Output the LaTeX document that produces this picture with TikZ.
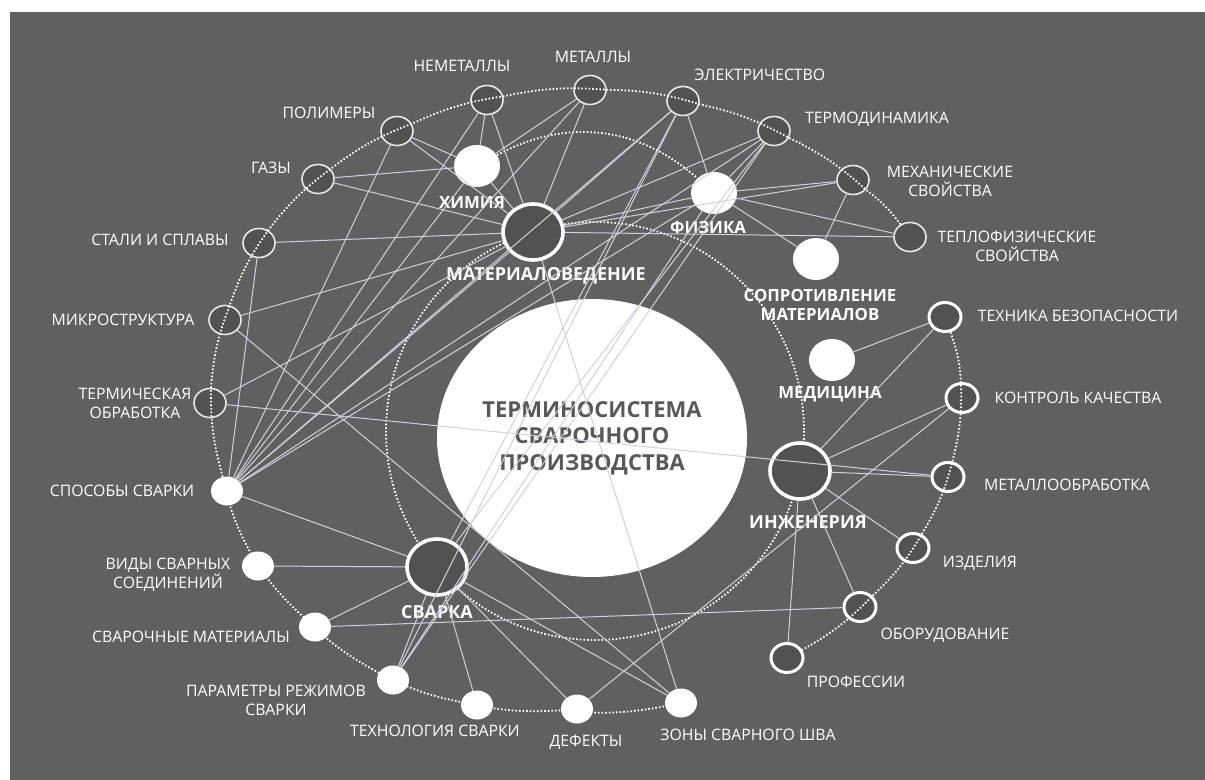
\documentclass[tikz,border=0pt]{standalone}
\usepackage{fontspec}
\setmainfont{Open Sans}
\usetikzlibrary{shapes.geometric}

\definecolor{bggray}{RGB}{96,96,96}
\definecolor{nodefill}{RGB}{84,82,80}
\definecolor{linkc}{RGB}{208,209,220}
\definecolor{rimc}{RGB}{232,232,232}
\definecolor{coretext}{RGB}{88,88,88}

\tikzset{
  term/.style={ellipse, minimum width=16pt, minimum height=14.5pt, inner sep=0pt,
    draw=rimc, line width=0.8pt, fill=nodefill},
  termb/.style={term, draw=white, line width=1.5pt},
  termw/.style={ellipse, minimum width=16pt, minimum height=14.5pt, inner sep=0pt, fill=white},
  area/.style={ellipse, minimum width=23pt, minimum height=21pt, inner sep=0pt, fill=white},
  hub/.style={ellipse, minimum width=30pt, minimum height=28pt, inner sep=0pt,
    draw=white, line width=1.8pt, fill=nodefill},
  core/.style={ellipse, minimum width=150pt, minimum height=139pt, inner sep=0pt, fill=white,
    text=coretext, align=center, font=\fontsize{11}{13.3}\selectfont\bfseries},
  lbl/.style={text=white, align=center, inner sep=0pt, font=\fontsize{7.9}{9.5}\selectfont},
  blbl/.style={text=white, align=center, inner sep=0pt, font=\fontsize{8.4}{9.2}\selectfont\bfseries},
  hlbl/.style={blbl, font=\fontsize{9}{10}\selectfont\bfseries},
  link/.style={draw=linkc, line width=0.5pt},
  ring/.style={draw=white, line width=0.9pt, dash pattern=on 0.8pt off 1pt},
}

\begin{document}
\begin{tikzpicture}[x=0.5pt, y=-0.5pt]
    \useasboundingbox (0,0) rectangle (1205,780);
    \fill[white] (0,0) rectangle (1205,780);
    \fill[bggray] (10,12) rectangle (1205,780);
    %inner dotted ring round the core
    \draw[ring] (595,431) circle [radius=209];

    \node[core] (core) at (592,438) {ТЕРМИНОСИСТЕМА\\СВАРОЧНОГО\\ПРОИЗВОДСТВА};

    % hubs and sciences
    \node[hub] (mat) at (533,232) {};
    \node[hub] (svarka) at (437,567) {};
    \node[hub] (inzh) at (800,471) {};
    \node[area] (him) at (477,166) {};
    \node[area] (fiz) at (714,193) {};
    \node[area] (sopr) at (816,259) {};
    \node[area] (med) at (832,360) {};
    \node[hlbl] (mat-t) at (546,276) {МАТЕРИАЛОВЕДЕНИЕ};
    \node[hlbl] (svarka-t) at (437,612) {СВАРКА};
    \node[hlbl] (inzh-t) at (808,522) {ИНЖЕНЕРИЯ};
    \node[blbl] (him-t) at (472,203) {ХИМИЯ};
    \node[blbl] (fiz-t) at (708,228) {ФИЗИКА};
    \node[blbl] (sopr-t) at (820,305) {СОПРОТИВЛЕНИЕ\\МАТЕРИАЛОВ};
    \node[blbl] (med-t) at (830,394) {МЕДИЦИНА};

    % outer terms, upper and left side
    \node[term] (nemet) at (487,100) {};
    \node[term] (metal) at (590,90) {};
    \node[term] (elek) at (683,101) {};
    \node[term] (termo) at (774,131) {};
    \node[term] (mech) at (853,180) {};
    \node[term] (teplo) at (910,237) {};
    \node[term] (polim) at (397,131) {};
    \node[term] (gazy) at (318,179) {};
    \node[term] (stali) at (259,243) {};
    \node[term] (micro) at (225,320) {};
    \node[term] (termobr) at (210,403) {};
    \node[lbl] (nemet-t) at (462,66) {НЕМЕТАЛЛЫ};
    \node[lbl] (metal-t) at (593,57) {МЕТАЛЛЫ};
    \node[lbl] (elek-t) at (760,75) {ЭЛЕКТРИЧЕСТВО};
    \node[lbl] (termo-t) at (877,119) {ТЕРМОДИНАМИКА};
    \node[lbl] (mech-t) at (950,181) {МЕХАНИЧЕСКИЕ\\СВОЙСТВА};
    \node[lbl] (teplo-t) at (1017,246) {ТЕПЛОФИЗИЧЕСКИЕ\\СВОЙСТВА};
    \node[lbl] (polim-t) at (329,113) {ПОЛИМЕРЫ};
    \node[lbl] (gazy-t) at (271,168) {ГАЗЫ};
    \node[lbl] (stali-t) at (160,240) {СТАЛИ И СПЛАВЫ};
    \node[lbl] (micro-t) at (123,320) {МИКРОСТРУКТУРА};
    \node[lbl] (termobr-t) at (135,403) {ТЕРМИЧЕСКАЯ\\ОБРАБОТКА};

    % welding terms, lower left
    \node[termw] (sposob) at (227,491) {};
    \node[termw] (vidy) at (258,566) {};
    \node[termw] (svmat) at (315,627) {};
    \node[termw] (param) at (393,680) {};
    \node[termw] (tehn) at (477,705) {};
    \node[termw] (defekt) at (577,709) {};
    \node[termw] (zony) at (681,703) {};
    \node[lbl] (sposob-t) at (122,491) {СПОСОБЫ СВАРКИ};
    \node[lbl] (vidy-t) at (168,575) {ВИДЫ СВАРНЫХ\\СОЕДИНЕНИЙ};
    \node[lbl] (svmat-t) at (191,637) {СВАРОЧНЫЕ МАТЕРИАЛЫ};
    \node[lbl] (param-t) at (276,700) {ПАРАМЕТРЫ РЕЖИМОВ\\СВАРКИ};
    \node[lbl] (tehn-t) at (435,731) {ТЕХНОЛОГИЯ СВАРКИ};
    \node[lbl] (defekt-t) at (586,742) {ДЕФЕКТЫ};
    \node[lbl] (zony-t) at (748,735) {ЗОНЫ СВАРНОГО ШВА};

    % engineering terms, right side
    \node[termb] (tb) at (945,317) {};
    \node[termb] (kontrol) at (962,398) {};
    \node[termb] (metobr) at (948,477) {};
    \node[termb] (izd) at (913,548) {};
    \node[termb] (obor) at (860,607) {};
    \node[termb] (prof) at (787,658) {};
    \node[lbl] (tb-t) at (1078,316) {ТЕХНИКА БЕЗОПАСНОСТИ};
    \node[lbl] (kontrol-t) at (1078,398) {КОНТРОЛЬ КАЧЕСТВА};
    \node[lbl] (metobr-t) at (1067,485) {МЕТАЛЛООБРАБОТКА};
    \node[lbl] (izd-t) at (980,563) {ИЗДЕЛИЯ};
    \node[lbl] (obor-t) at (945,635) {ОБОРУДОВАНИЕ};
    \node[lbl] (prof-t) at (856,682) {ПРОФЕССИИ};

    %dotted arcs between neighbouring terms
    \draw[ring] (teplo) to[bend right=8] (mech) to[bend right=8] (termo) to[bend right=8] (elek)
        to[bend right=8] (metal) to[bend right=8] (nemet) to[bend right=8] (polim)
        to[bend right=8] (gazy) to[bend right=8] (stali) to[bend right=8] (micro)
        to[bend right=8] (termobr) to[bend right=8] (sposob) to[bend right=8] (vidy)
        to[bend right=8] (svmat) to[bend right=8] (param) to[bend right=8] (tehn)
        to[bend right=8] (defekt) to[bend right=8] (zony);
    \draw[ring] (tb) to[bend left=8] (kontrol) to[bend left=8] (metobr) to[bend left=8] (izd)
        to[bend left=8] (obor) to[bend left=8] (prof);
    \draw[ring] (him) to[bend left=35] (fiz);

    % links
    \foreach \a/\b in {mat/nemet, mat/metal, mat/polim, mat/gazy, mat/stali, mat/micro,
        mat/termobr, mat/sposob, mat/him, mat/fiz, mat/elek, mat/termo, mat/mech, mat/teplo,
        mat/zony, him/nemet, him/metal, him/polim, him/gazy, him/sposob,
        fiz/elek, fiz/termo, fiz/mech, fiz/teplo, fiz/sopr, fiz/sposob, fiz/param,
        sopr/mech, med/tb, sposob/stali, sposob/polim, sposob/nemet, sposob/metal,
        sposob/elek, sposob/termo, sposob/svarka, param/elek, param/termo, param/svarka,
        svarka/elek, svarka/termo, svarka/vidy, svarka/svmat, svarka/tehn, svarka/defekt,
        svarka/zony, zony/micro, termobr/metobr, svmat/obor, defekt/kontrol,
        inzh/tb, inzh/kontrol, inzh/metobr, inzh/izd, inzh/obor, inzh/prof}
        \draw[link] (\a) -- (\b);
\end{tikzpicture}
\end{document}
